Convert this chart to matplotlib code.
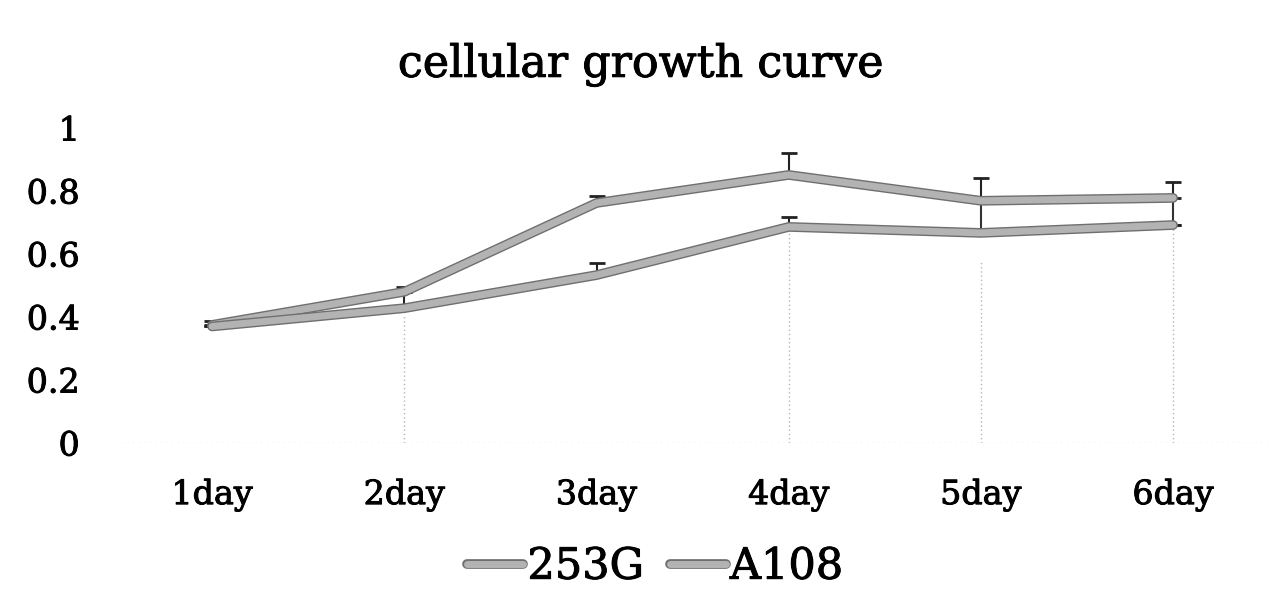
import matplotlib
matplotlib.use('Agg')
from matplotlib import pyplot as plt
import matplotlib.patheffects as pe
import numpy as np

days = ['1day', '2day', '3day', '4day', '5day', '6day']
g253 = [0.375, 0.48, 0.762, 0.851, 0.769, 0.778]
g253_err_up = [0.013, 0.016, 0.022, 0.069, 0.071, 0.052]
g253_err_down = [0.0, 0.0, 0.0, 0.0, 0.102, 0.086]
a108 = [0.37, 0.428, 0.533, 0.686, 0.667, 0.692]
a108_err_up = [0.0, 0.05, 0.039, 0.032, 0.0, 0.0]
drop_top = [None, 0.41, None, 0.686, 0.575, 0.692]

plt.rcParams['font.family'] = ['DejaVu Serif']

fig = plt.figure(figsize=(12.82, 6.14), dpi=100)
ax = fig.add_axes([0.0905, 0.2785, 0.8995, 0.513])
x = np.arange(len(days))

line_fx = [pe.Stroke(linewidth=7, foreground='#6f6f6f'), pe.Normal()]
text_fx = [pe.withStroke(linewidth=0.7, foreground='black')]

# faint dotted drop lines
for i, t in enumerate(drop_top):
    if t is not None:
        ax.plot([x[i], x[i]], [0, t], color='#b5b5b5', lw=1, ls=(0, (1, 2)), zorder=1)

# zero line
ax.axhline(0, color='#c8c8c8', lw=1, ls=(0, (1, 3)), zorder=1)

ax.errorbar(x, g253, yerr=[np.zeros(6), g253_err_up], fmt='none', ecolor='#222222',
            elinewidth=1.5, capsize=6, capthick=2, zorder=2)
ax.errorbar(x, a108, yerr=[np.zeros(6), a108_err_up], fmt='none', ecolor='#222222',
            elinewidth=1.5, capsize=6, capthick=2, zorder=2)
for i in range(6):
    if g253_err_down[i] > 0:
        ax.plot([x[i], x[i]], [g253[i] - g253_err_down[i], g253[i]], color='#333333', lw=1.5, zorder=2)

ax.plot(x, g253, color='#b3b3b3', lw=5, label='253G', path_effects=line_fx,
        solid_joinstyle='round', solid_capstyle='round', zorder=3)
ax.plot(x, a108, color='#b3b3b3', lw=5, label='A108', path_effects=line_fx,
        solid_joinstyle='round', solid_capstyle='round', zorder=3)

ax.set_xlim(-0.5, 5.5)
ax.set_ylim(0, 1)
ax.set_yticks([0, 0.2, 0.4, 0.6, 0.8, 1])
ax.set_yticklabels(['0', '0.2', '0.4', '0.6', '0.8', '1'])
ax.set_xticks(x)
ax.set_xticklabels(days)
ax.tick_params(axis='both', length=0, labelsize=24)
ax.tick_params(axis='y', pad=26)
ax.tick_params(axis='x', pad=26)
for s in ax.spines.values():
    s.set_visible(False)
for lab in ax.get_xticklabels() + ax.get_yticklabels():
    lab.set_path_effects(text_fx)

fig.text(0.5, 0.895, 'cellular growth curve', ha='center', va='center', fontsize=32,
         path_effects=text_fx)

leg = fig.legend(loc='center', bbox_to_anchor=(0.511, 0.077), ncol=2, frameon=False,
                 fontsize=31, handlelength=1.3, handletextpad=0.1, columnspacing=0.6)
for t in leg.get_texts():
    t.set_path_effects(text_fx)

plt.savefig('out.png', dpi=100)
